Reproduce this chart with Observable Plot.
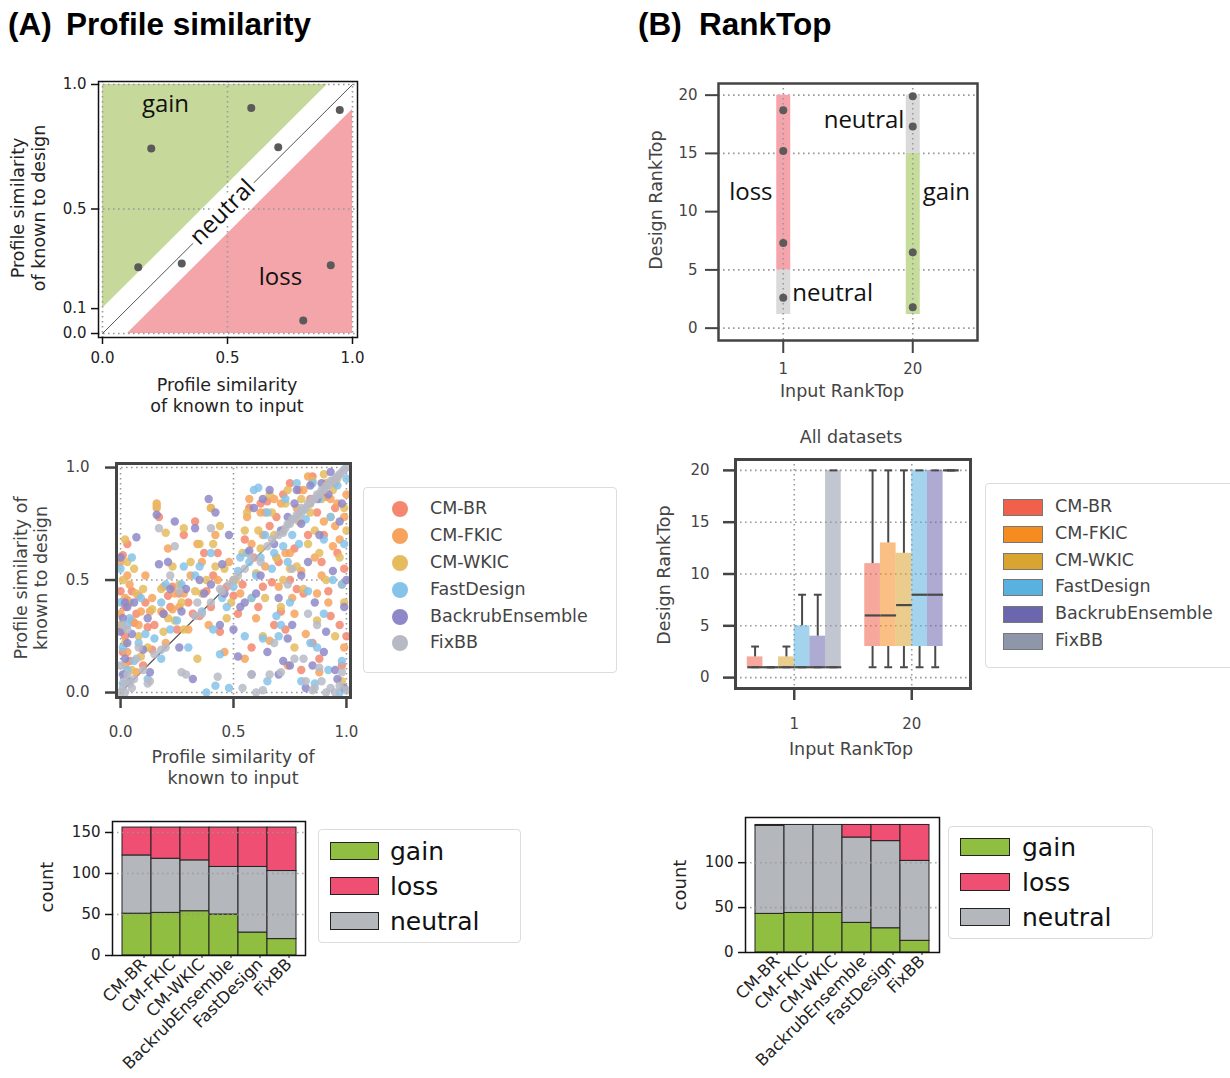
<!DOCTYPE html>
<html><head><meta charset="utf-8">
<script src="https://cdn.jsdelivr.net/npm/d3@7"></script>
<script src="https://cdn.jsdelivr.net/npm/@observablehq/plot@0.6"></script>
<style>
body{margin:0;background:#fff;}
#root{position:relative;width:1230px;height:1078px;overflow:hidden;font-family:"DejaVu Sans",sans-serif;background:#fff;}
.abs{position:absolute;white-space:nowrap;line-height:1;}
</style></head><body><div id="root"></div><script>
// ---------------- DATA ----------------
const methods = ["CM-BR","CM-FKIC","CM-WKIC","FastDesign","BackrubEnsemble","FixBB"];
const barMethods = ["CM-BR","CM-FKIC","CM-WKIC","BackrubEnsemble","FastDesign","FixBB"];
const outcomes = ["gain","loss","neutral"];
const outcomeColors = ["#8fbe40","#ef4f73","#b4b7bc"];
const scatterColors = ["#f4876e","#f7a35c","#e5bb5e","#86c3ea","#8e88c8","#b7bac5"];
const boxColors = ["#f0604a","#f68b1f","#d9a42f","#59b1df","#6c66ae","#8e97a9"];

// (A) schematic
const neutralBand = 0.1;
const schemInput  = [0.143,0.195,0.317,0.595,0.703,0.949,0.913,0.803];
const schemDesign = [0.266,0.743,0.281,0.906,0.748,0.898,0.274,0.052];

// (B) schematic
const inputRank = ["1","20"];
const segInput = ["1","1","20","20"];
const segFrom  = [1.17,5,1.17,15];
const segTo    = [5,20,15,20];
const segClass = ["neutral","loss","gain","neutral"];
const rankPtInput  = ["1","1","1","1","20","20","20","20"];
const rankPtDesign = [18.7,15.2,7.3,2.6,19.9,17.3,6.5,1.8];

// (A) scatter: [input similarity, design similarity]
const scCMBR = [[0.00,0.45],[0.01,0.61],[0.02,0.38],[0.02,0.25],[0.03,0.66],[0.04,0.14],[0.05,0.45],[0.06,0.31],[0.08,0.43],[0.10,0.12],[0.12,0.29],[0.14,0.19],[0.17,0.78],[0.19,0.35],[0.21,0.43],[0.23,0.47],[0.25,0.28],[0.28,0.70],[0.30,0.40],[0.33,0.76],[0.35,0.34],[0.37,0.62],[0.40,0.38],[0.41,0.52],[0.44,0.27],[0.47,0.47],[0.50,0.43],[0.52,0.35],[0.55,0.68],[0.57,0.82],[0.59,0.60],[0.61,0.38],[0.63,0.47],[0.65,0.85],[0.67,0.49],[0.69,0.78],[0.71,0.36],[0.73,0.28],[0.75,0.50],[0.77,0.64],[0.79,0.90],[0.81,0.44],[0.83,0.70],[0.85,0.22],[0.87,0.80],[0.89,0.58],[0.91,0.87],[0.93,0.34],[0.95,0.93],[0.97,0.30],[0.99,0.55],[0.98,0.12],[0.85,0.96],[0.75,0.93],[0.66,0.74],[0.92,0.45],[0.88,0.15],[0.80,0.10],[0.58,0.20],[0.95,0.82],
  [0.01,0.18],[0.03,0.41],[0.07,0.35],[0.11,0.40],[0.15,0.30],[0.22,0.38],[0.26,0.44],[0.32,0.35],[0.38,0.45],[0.43,0.62],[0.54,0.48],[0.62,0.84],[0.68,0.30],[0.72,0.88],[0.78,0.46],[0.84,0.86],[0.90,0.70],[0.96,0.62],[1.00,0.25],[0.70,0.58]];
const scCMFKIC = [[0.00,0.58],[0.01,0.28],[0.02,0.42],[0.03,0.18],[0.05,0.32],[0.07,0.09],[0.09,0.36],[0.11,0.52],[0.13,0.36],[0.16,0.84],[0.18,0.36],[0.20,0.22],[0.21,0.64],[0.24,0.44],[0.26,0.38],[0.30,0.28],[0.34,0.66],[0.36,0.58],[0.40,0.82],[0.43,0.50],[0.45,0.45],[0.46,0.18],[0.50,0.50],[0.53,0.44],[0.56,0.78],[0.58,0.66],[0.60,0.33],[0.62,0.80],[0.64,0.56],[0.66,0.23],[0.68,0.86],[0.70,0.47],[0.72,0.72],[0.73,0.62],[0.74,0.12],[0.76,0.42],[0.78,0.82],[0.80,0.54],[0.82,0.26],[0.83,0.96],[0.86,0.60],[0.87,0.44],[0.88,0.09],[0.90,0.76],[0.92,0.40],[0.94,0.65],[0.95,0.74],[0.96,0.84],[0.98,0.48],[1.00,0.88],[0.99,0.20],[0.84,0.84],[0.91,0.93],[0.69,0.60],[0.55,0.15],[0.77,0.35],[0.97,0.68],[0.16,0.82],[0.03,0.52],[0.64,0.80],
  [0.00,0.35],[0.02,0.12],[0.04,0.48],[0.08,0.30],[0.14,0.42],[0.19,0.47],[0.23,0.37],[0.28,0.44],[0.31,0.52],[0.39,0.30],[0.42,0.70],[0.48,0.58],[0.57,0.86],[0.63,0.70],[0.71,0.84],[0.75,0.62],[0.81,0.90],[0.89,0.52],[0.93,0.86],[0.99,0.78]];
const scCMWKIC = [[0.01,0.50],[0.02,0.22],[0.04,0.40],[0.05,0.10],[0.06,0.55],[0.08,0.25],[0.10,0.46],[0.14,0.37],[0.16,0.83],[0.19,0.27],[0.20,0.71],[0.23,0.56],[0.24,0.32],[0.26,0.48],[0.28,0.73],[0.31,0.58],[0.34,0.15],[0.36,0.44],[0.38,0.50],[0.40,0.82],[0.41,0.66],[0.44,0.74],[0.47,0.33],[0.51,0.50],[0.54,0.62],[0.56,0.80],[0.58,0.42],[0.60,0.53],[0.61,0.72],[0.63,0.25],[0.66,0.88],[0.68,0.70],[0.69,0.60],[0.71,0.38],[0.73,0.84],[0.75,0.55],[0.77,0.20],[0.79,0.76],[0.81,0.46],[0.83,0.66],[0.85,0.94],[0.87,0.32],[0.89,0.86],[0.90,0.97],[0.91,0.50],[0.93,0.78],[0.95,0.25],[0.97,0.60],[0.98,0.05],[0.99,0.82],[0.99,0.40],[0.86,0.72],[0.72,0.50],[0.64,0.42],[0.46,0.55],[0.28,0.28],[0.12,0.20],[0.02,0.68],[0.94,0.90],[0.80,0.86],
  [0.00,0.30],[0.03,0.58],[0.07,0.44],[0.09,0.16],[0.18,0.46],[0.21,0.33],[0.27,0.40],[0.33,0.45],[0.35,0.66],[0.42,0.56],[0.49,0.40],[0.55,0.72],[0.62,0.64],[0.67,0.80],[0.74,0.90],[0.78,0.56],[0.84,0.80],[0.88,0.62],[0.96,0.95],[1.00,0.72]];
const scFast = [[0.00,0.40],[0.01,0.20],[0.02,0.08],[0.03,0.30],[0.05,0.60],[0.06,0.14],[0.09,0.42],[0.12,0.06],[0.15,0.24],[0.18,0.40],[0.22,0.28],[0.25,0.32],[0.27,0.48],[0.30,0.20],[0.33,0.52],[0.35,0.56],[0.38,0.00],[0.40,0.62],[0.42,0.03],[0.44,0.17],[0.45,0.42],[0.48,0.02],[0.50,0.47],[0.52,0.54],[0.55,0.25],[0.57,0.58],[0.59,0.90],[0.61,0.91],[0.62,0.60],[0.63,0.24],[0.65,0.80],[0.67,0.55],[0.69,0.34],[0.70,0.25],[0.72,0.65],[0.74,0.58],[0.76,0.70],[0.78,0.93],[0.80,0.05],[0.82,0.77],[0.84,0.22],[0.86,0.04],[0.88,0.86],[0.90,0.68],[0.92,0.10],[0.94,0.50],[0.96,0.92],[0.97,0.00],[0.98,0.14],[1.00,0.95],[0.99,0.66],[0.83,0.45],[0.75,0.40],[0.58,0.42],[0.36,0.36],[0.08,0.22],[0.65,0.05],[0.53,0.60],[0.90,0.35],[0.71,0.30],
  [0.00,0.55],[0.01,0.04],[0.03,0.10],[0.04,0.33],[0.11,0.26],[0.20,0.48],[0.28,0.56],[0.41,0.28],[0.47,0.38],[0.56,0.62],[0.64,0.70],[0.68,0.62],[0.79,0.66],[0.87,0.20],[0.93,0.78],[0.98,0.48],[0.85,0.93],[0.73,0.86],[0.18,0.15],[0.60,0.52]];
const scBackrub = [[0.00,0.60],[0.01,0.33],[0.02,0.15],[0.03,0.38],[0.04,0.05],[0.05,0.26],[0.07,0.69],[0.10,0.19],[0.13,0.09],[0.16,0.79],[0.17,0.57],[0.19,0.35],[0.24,0.76],[0.26,0.20],[0.29,0.46],[0.32,0.06],[0.33,0.73],[0.37,0.44],[0.39,0.86],[0.42,0.80],[0.44,0.30],[0.46,0.44],[0.48,0.70],[0.50,0.28],[0.53,0.38],[0.55,0.40],[0.57,0.63],[0.58,0.08],[0.60,0.44],[0.63,0.86],[0.65,0.18],[0.68,0.66],[0.70,0.42],[0.72,0.14],[0.74,0.78],[0.74,0.24],[0.76,0.30],[0.78,0.90],[0.80,0.52],[0.82,0.02],[0.84,0.92],[0.85,0.12],[0.86,0.40],[0.88,0.70],[0.90,0.18],[0.92,0.88],[0.93,0.98],[0.94,0.54],[0.96,0.06],[0.98,0.84],[0.99,0.38],[0.99,0.02],[0.80,0.75],[0.87,0.86],[0.95,0.10],[0.70,0.08],[0.62,0.52],[0.40,0.48],[0.02,0.40],[0.22,0.46],
  [0.00,0.27],[0.01,0.08],[0.03,0.22],[0.06,0.40],[0.12,0.33],[0.21,0.58],[0.27,0.36],[0.35,0.50],[0.45,0.57],[0.52,0.16],[0.59,0.82],[0.66,0.90],[0.71,0.72],[0.77,0.84],[0.83,0.58],[0.89,0.93],[0.91,0.27],[0.97,0.76],[1.00,0.50],[0.75,0.12]];
const scFixBB = [[0.00,0.00],[0.01,0.02],[0.02,0.05],[0.03,0.28],[0.04,0.04],[0.05,0.02],[0.08,0.20],[0.10,0.10],[0.12,0.04],[0.15,0.17],[0.17,0.73],[0.20,0.20],[0.22,0.52],[0.24,0.65],[0.27,0.09],[0.29,0.08],[0.33,0.34],[0.34,0.40],[0.36,0.35],[0.40,0.40],[0.40,0.73],[0.43,0.07],[0.45,0.45],[0.50,0.50],[0.52,0.52],[0.55,0.55],[0.58,0.60],[0.58,0.08],[0.60,0.00],[0.62,0.58],[0.63,0.01],[0.66,0.08],[0.68,0.22],[0.70,0.70],[0.71,0.09],[0.72,0.71],[0.73,0.73],[0.74,0.48],[0.74,0.75],[0.75,0.75],[0.76,0.77],[0.77,0.15],[0.77,0.77],[0.78,0.79],[0.79,0.79],[0.80,0.80],[0.80,0.82],[0.81,0.15],[0.81,0.81],[0.82,0.82],[0.83,0.35],[0.83,0.84],[0.84,0.84],[0.85,0.01],[0.85,0.86],[0.86,0.86],[0.87,0.30],[0.87,0.88],[0.88,0.88],[0.88,0.11],[0.89,0.90],[0.90,0.90],[0.91,0.00],[0.91,0.92],[0.92,0.92],[0.93,0.02],[0.93,0.94],[0.94,0.94],[0.95,0.95],[0.96,0.96],[0.97,0.97],[0.98,0.98],[0.98,0.09],[0.99,0.99],[1.00,1.00],[1.00,0.01],
  [0.00,0.12],[0.01,0.30],[0.02,0.00],[0.03,0.08],[0.06,0.06],[0.07,0.15],[0.13,0.05],[0.18,0.19],[0.26,0.45],[0.44,0.46],[0.48,0.48],[0.65,0.65],[0.67,0.68],[0.76,0.55],[0.86,0.02],[0.89,0.05],[0.95,0.00],[0.97,0.03],[0.82,0.05],[0.54,0.02]];
const scatterSeries = [scCMBR, scCMFKIC, scCMWKIC, scFast, scBackrub, scFixBB];

// (B) box plot statistics, per method (order of `methods`)
const r1Q1  = [1,1,1,1,1,1];
const r1Q3  = [2,1,2,5,4,20];
const r1Med = [1,1,1,1,1,1];
const r1Lo  = [1,1,1,1,1,1];
const r1Hi  = [3,1,3,8,8,20];
const r20Q1  = [3,3,3,3,3,20];
const r20Q3  = [11,13,12,20,20,20];
const r20Med = [6,6,7,8,8,20];
const r20Lo  = [1,1,1,1,1,20];
const r20Hi  = [20,20,20,20,20,20];

// counts (order of `barMethods`)
const psGain    = [51,52,54,50,28,20];
const psNeutral = [71,66,62,58,80,83];
const psLoss    = [34,38,40,48,48,53];
const rtGain    = [43,44,44,33,27,13];
const rtNeutral = [98,98,98,95,97,89];
const rtLoss    = [1,0,0,14,18,40];

// ---------------- HELPERS ----------------
const root = document.getElementById("root");
function put(el, left, top) {
  el.style.position = "absolute"; el.style.left = left + "px"; el.style.top = top + "px";
  root.appendChild(el); return el;
}
function label(text, cx, cy, o = {}) {
  const d = document.createElement("div");
  d.className = "abs"; d.textContent = text;
  d.style.left = cx + "px"; d.style.top = cy + "px";
  d.style.transform = "translate(-50%,-50%)" + (o.rotate ? ` rotate(${o.rotate}deg)` : "");
  d.style.fontSize = (o.size || 17) + "px";
  d.style.color = o.color || "#333";
  d.style.fontFamily = o.font || '"DejaVu Sans"';
  if (o.weight) d.style.fontWeight = o.weight;
  root.appendChild(d);
}
function leftText(text, x, cy, o = {}) {
  const d = document.createElement("div");
  d.className = "abs"; d.textContent = text;
  d.style.left = x + "px"; d.style.top = cy + "px";
  d.style.transform = "translateY(-50%)";
  d.style.fontSize = (o.size || 17) + "px";
  d.style.color = o.color || "#333";
  d.style.fontFamily = o.font || '"DejaVu Sans"';
  if (o.weight) d.style.fontWeight = o.weight;
  root.appendChild(d);
}
function box(left, top, w, h) {
  const d = document.createElement("div");
  d.style.cssText = `position:absolute;left:${left}px;top:${top}px;width:${w}px;height:${h}px;border:1.5px solid #dcdcdc;border-radius:4px;background:#fff;box-sizing:border-box;`;
  root.appendChild(d);
}
function swatch(left, cy, w, h, color, round, border) {
  const d = document.createElement("div");
  d.style.cssText = `position:absolute;left:${left}px;top:${cy - h/2}px;width:${w}px;height:${h}px;background:${color};box-sizing:border-box;` +
    (round ? "border-radius:50%;" : "") + (border ? `border:${border};` : "");
  root.appendChild(d);
}
const dotGrid = {stroke: "#999", strokeOpacity: 1, strokeWidth: 1.6, strokeDasharray: "1.6,3.4"};
const baseStyle = {fontFamily: '"DejaVu Sans"', fontSize: "15px", background: "transparent", overflow: "visible"};
const f1 = d3.format(".1f");
const TF = 15;

// ---------------- TITLES ----------------
const titleOpt = {size: 31.5, weight: "bold", font: '"Liberation Sans"', color: "#000"};
leftText("(A)", 8, 25, titleOpt);
leftText("Profile similarity", 66, 25, titleOpt);
leftText("(B)", 638, 25, titleOpt);
leftText("RankTop", 699, 25, titleOpt);

// ---------------- A1: schematic ----------------
{
  const pts = schemInput.map((x, i) => ({x, y: schemDesign[i]}));
  const p = Plot.plot({
    width: 380, height: 370, marginLeft: 98, marginRight: 23, marginTop: 21, marginBottom: 93,
    style: baseStyle,
    x: {domain: [-0.016, 1.02]}, y: {domain: [-0.016, 1.012]},
    marks: [
      Plot.areaY([0, 1 - neutralBand], {x: d => d, y1: d => d + neutralBand, y2: 1, fill: "#c6d99b"}),
      Plot.areaY([neutralBand, 1], {x: d => d, y1: 0, y2: d => d - neutralBand, fill: "#f4a5aa"}),
      Plot.gridX({ticks: [0, 0.5, 1], ...dotGrid}),
      Plot.gridY({ticks: [0, 0.5, 1], ...dotGrid}),
      Plot.line([0, 1], {x: d => d, y: d => d, stroke: "#555", strokeWidth: 1}),
      Plot.text(["neutral"], {x: [0.48], y: [0.487], text: d => d, rotate: -45, fontSize: 24, fontFamily: '"Open Sans"', fill: "#111", stroke: "white", strokeWidth: 9}),
      Plot.text(["gain", "loss"], {x: [0.252, 0.712], y: [0.92, 0.225], text: d => d, fontSize: 24, fontFamily: '"Open Sans"', fill: "#111"}),
      Plot.dot(pts, {x: "x", y: "y", r: 4, fill: "#5a5a5a"}),
      Plot.frame({stroke: "#111", strokeWidth: 1.5}),
      Plot.axisY({ticks: [0, 0.1, 0.5, 1], tickFormat: f1, tickSize: 7, tickPadding: 5, stroke: "#111", strokeWidth: 1.5, fill: "#222", fontSize: TF, label: null}),
      Plot.axisX({ticks: [0, 0.5, 1], tickFormat: f1, tickSize: 7, tickPadding: 8, stroke: "#111", strokeWidth: 1.5, fill: "#222", fontSize: TF, label: null})
    ]
  });
  put(p, 0, 60);
  label("Profile similarity", 19, 208, {rotate: -90, color: "#222", size: 17.5});
  label("of known to design", 40, 208, {rotate: -90, color: "#222", size: 17.5});
  label("Profile similarity", 227, 386, {color: "#222", size: 17.5});
  label("of known to input", 227, 407, {color: "#222", size: 17.5});
}

// ---------------- B1: RankTop schematic ----------------
{
  const segs = segInput.map((inp, i) => ({x: inputRank.indexOf(inp), y1: segFrom[i], y2: segTo[i], c: segClass[i]}));
  const pts = rankPtInput.map((inp, i) => ({x: inputRank.indexOf(inp), y: rankPtDesign[i]}));
  const p = Plot.plot({
    width: 380, height: 360, marginLeft: 88, marginRight: 33, marginTop: 23, marginBottom: 80,
    style: baseStyle,
    x: {domain: [-0.5, 1.5]}, y: {domain: [-1.06, 21.0]},
    color: {domain: outcomes, range: ["#c6dc9b", "#f5a4ab", "#dadada"]},
    marks: [
      Plot.gridY({ticks: [0, 5, 15, 20], ...dotGrid}),
      Plot.ruleX(segs, {x: "x", y1: "y1", y2: "y2", stroke: "c", strokeWidth: 14}),
      Plot.gridX({ticks: [0, 1], ...dotGrid}),
      Plot.dot(pts, {x: "x", y: "y", r: 4, fill: "#5a5a5a"}),
      Plot.text(["loss", "gain"], {x: [-0.25, 1.26], y: [11.7, 11.7], text: d => d, fontSize: 24, fontFamily: '"Open Sans"', fill: "#111"}),
      Plot.text(["neutral"], {x: [0.935], y: [17.85], text: d => d, textAnchor: "end", fontSize: 24, fontFamily: '"Open Sans"', fill: "#111"}),
      Plot.text(["neutral"], {x: [0.07], y: [2.95], text: d => d, textAnchor: "start", fontSize: 24, fontFamily: '"Open Sans"', fill: "#111"}),
      Plot.frame({stroke: "#444", strokeWidth: 2.5}),
      Plot.axisY({ticks: [0, 5, 10, 15, 20], tickSize: 13, tickPadding: 8, stroke: "#444", strokeWidth: 2, fill: "#444", fontSize: TF, label: null}),
      Plot.axisX({ticks: [0, 1], tickFormat: i => inputRank[i], tickSize: 13, tickPadding: 10, stroke: "#444", strokeWidth: 2, fill: "#444", fontSize: TF, label: null})
    ]
  });
  put(p, 630, 60);
  label("Design RankTop", 657, 200, {rotate: -90, color: "#444", size: 17.5});
  label("Input RankTop", 842, 392, {color: "#444", size: 17.5});
}

// ---------------- A2: scatter ----------------
{
  const rows = [];
  scatterSeries.forEach((s, mi) => s.forEach(([x, y]) => rows.push({x, y, m: methods[mi]})));
  const p = Plot.plot({
    width: 380, height: 360, marginLeft: 116, marginRight: 30, marginTop: 23, marginBottom: 103,
    style: baseStyle,
    x: {domain: [-0.018, 1.018]}, y: {domain: [-0.022, 1.018]},
    color: {domain: methods, range: scatterColors},
    marks: [
      Plot.gridX({ticks: [0, 0.5, 1], ...dotGrid}),
      Plot.gridY({ticks: [0, 0.5, 1], ...dotGrid}),
      Plot.line([0, 1], {x: d => d, y: d => d, stroke: "#555", strokeWidth: 1.2}),
      Plot.dot(rows, {x: "x", y: "y", r: 4.2, fill: "m", fillOpacity: 0.85}),
      Plot.frame({stroke: "#444", strokeWidth: 3}),
      Plot.axisY({ticks: [0, 0.5, 1], tickFormat: f1, tickSize: 11, tickPadding: 16, stroke: "#444", strokeWidth: 2.5, fill: "#444", fontSize: TF, label: null}),
      Plot.axisX({ticks: [0, 0.5, 1], tickFormat: f1, tickSize: 11, tickPadding: 18, stroke: "#444", strokeWidth: 2.5, fill: "#444", fontSize: TF, label: null})
    ]
  });
  put(p, 0, 440);
  label("Profile similarity of", 22, 578, {rotate: -90, color: "#444", size: 17.5});
  label("known to design", 42, 578, {rotate: -90, color: "#444", size: 17.5});
  label("Profile similarity of", 233, 758, {color: "#444", size: 17.5});
  label("known to input", 233, 779, {color: "#444", size: 17.5});
  box(363, 487, 254, 186);
  const rowsY = [509, 536, 563, 590, 617, 643];
  methods.forEach((m, i) => {
    swatch(392, rowsY[i], 16, 16, scatterColors[i], true);
    leftText(m, 430, rowsY[i], {color: "#444", size: 17.5});
  });
}

// ---------------- B2: box plot ----------------
{
  const boxW = 0.8 / methods.length;
  const rows = [];
  methods.forEach((m, mi) => {
    rows.push({g: 0, mi, m, q1: r1Q1[mi], q3: r1Q3[mi], med: r1Med[mi], lo: r1Lo[mi], hi: r1Hi[mi]});
    rows.push({g: 1, mi, m, q1: r20Q1[mi], q3: r20Q3[mi], med: r20Med[mi], lo: r20Lo[mi], hi: r20Hi[mi]});
  });
  const pos = d => d.g + (d.mi - (methods.length - 1) / 2) * boxW;
  const p = Plot.plot({
    width: 360, height: 340, marginLeft: 95, marginRight: 30, marginTop: 39, marginBottom: 72,
    style: baseStyle,
    x: {domain: [-0.5, 1.5]}, y: {domain: [-1.05, 21.05]},
    color: {domain: methods, range: boxColors},
    marks: [
      Plot.gridY({ticks: [0, 5, 10, 15, 20], ...dotGrid}),
      Plot.gridX({ticks: [0, 1], ...dotGrid}),
      Plot.rect(rows, {x1: d => pos(d) - boxW / 2, x2: d => pos(d) + boxW / 2, y1: "q1", y2: "q3", fill: "m", fillOpacity: 0.55}),
      Plot.ruleX(rows, {x: pos, y1: "q3", y2: "hi", stroke: "#4a4a4a", strokeWidth: 2}),
      Plot.ruleX(rows, {x: pos, y1: "lo", y2: "q1", stroke: "#4a4a4a", strokeWidth: 2}),
      Plot.link(rows, {x1: d => pos(d) - boxW / 4, x2: d => pos(d) + boxW / 4, y1: "hi", y2: "hi", stroke: "#4a4a4a", strokeWidth: 2}),
      Plot.link(rows, {x1: d => pos(d) - boxW / 4, x2: d => pos(d) + boxW / 4, y1: "lo", y2: "lo", stroke: "#4a4a4a", strokeWidth: 2}),
      Plot.link(rows, {x1: d => pos(d) - boxW / 2, x2: d => pos(d) + boxW / 2, y1: "med", y2: "med", stroke: "#4a4a4a", strokeWidth: 2.2}),
      Plot.frame({stroke: "#444", strokeWidth: 3}),
      Plot.axisY({ticks: [0, 5, 10, 15, 20], tickSize: 12, tickPadding: 14, stroke: "#444", strokeWidth: 2.5, fill: "#444", fontSize: TF, label: null}),
      Plot.axisX({ticks: [0, 1], tickFormat: i => inputRank[i], tickSize: 12, tickPadding: 18, stroke: "#444", strokeWidth: 2.5, fill: "#444", fontSize: TF, label: null})
    ]
  });
  put(p, 640, 420);
  label("All datasets", 851, 438, {color: "#444", size: 17.5});
  label("Design RankTop", 665, 575, {rotate: -90, color: "#444", size: 17.5});
  label("Input RankTop", 851, 750, {color: "#444", size: 17.5});
  box(985, 483, 260, 185);
  const rowsY = [507, 534, 561, 587, 614, 641];
  methods.forEach((m, i) => {
    swatch(1003, rowsY[i], 40, 17, boxColors[i], false, "1px solid #777");
    leftText(m, 1055, rowsY[i], {color: "#444", size: 17.5});
  });
}

// ---------------- count bar charts ----------------
function countChart(gain, neutral, loss, opt) {
  const rows = [];
  barMethods.forEach((m, i) => {
    rows.push({m, o: "gain", v: gain[i]});
    rows.push({m, o: "neutral", v: neutral[i]});
    rows.push({m, o: "loss", v: loss[i]});
  });
  return Plot.plot({
    width: opt.width, height: 278, marginLeft: opt.ml, marginRight: opt.mr, marginTop: opt.mt, marginBottom: opt.mb,
    style: baseStyle,
    x: {domain: barMethods, paddingInner: 0, paddingOuter: opt.po},
    y: {domain: [0, opt.ymax]},
    color: {domain: outcomes, range: outcomeColors},
    marks: [
      Plot.barY(rows, {x: "m", y: "v", fill: "o", z: "o", order: ["gain", "neutral", "loss"], stroke: "#222", strokeWidth: 1, inset: 0}),
      Plot.gridY({ticks: opt.grid, ...dotGrid, strokeOpacity: 0.8}),
      Plot.frame({stroke: "#111", strokeWidth: 1.5}),
      Plot.axisY({ticks: opt.ticks, tickSize: 7, tickPadding: 5, stroke: "#111", strokeWidth: 1.5, fill: "#222", fontSize: TF, label: null}),
      Plot.axisX({tickRotate: -45, tickSize: 3, tickPadding: 3, dx: 7, stroke: "#111", fill: "#222", fontSize: 16.5, label: null})
    ]
  });
}
put(countChart(psGain, psNeutral, psLoss, {width: 540, ml: 112, mr: 235, mt: 21, mb: 123, po: 0.27, ymax: 163.4, ticks: [0, 50, 100, 150], grid: [50, 100, 150]}), 0, 800);
label("count", 47, 887, {rotate: -90, color: "#222", size: 18});
box(318, 829, 203, 114);
outcomes.forEach((o, i) => {
  const cy = [851, 886, 921][i];
  swatch(330, cy, 49, 18, outcomeColors[i], false, "1.5px solid #222");
  leftText(o, 390, cy, {size: 25, color: "#111"});
});

put(countChart(rtGain, rtNeutral, rtLoss, {width: 550, ml: 65, mr: 291, mt: 17, mb: 126, po: 0.29, ymax: 150.3, ticks: [0, 50, 100], grid: [50, 100]}), 680, 800);
label("count", 680, 885, {rotate: -90, color: "#222", size: 18});
box(948, 826, 205, 113);
outcomes.forEach((o, i) => {
  const cy = [847, 882, 917][i];
  swatch(960, cy, 50, 18, outcomeColors[i], false, "1.5px solid #222");
  leftText(o, 1022, cy, {size: 25, color: "#111"});
});
</script></body></html>
